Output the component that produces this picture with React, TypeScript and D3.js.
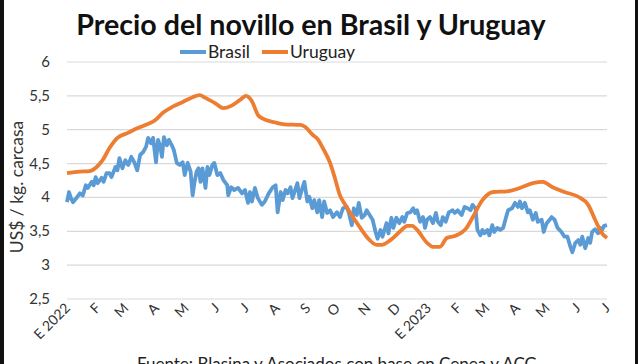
import React, { useEffect, useRef } from "react";
import * as d3 from "d3";

const title = "Precio del novillo en Brasil y Uruguay";
const yAxisTitle = "US$ / kg. carcasa";
const source = "Fuente: Blasina y Asociados con base en Cepea y ACG";

const seriesNames = ["Brasil", "Uruguay"];
const seriesColors = ["#5B9BD5", "#ED7D31"];

const yTicks = [2.5, 3, 3.5, 4, 4.5, 5, 5.5, 6];
const monthLabels = ["E 2022", "F", "M", "A", "M", "J", "J", "A", "S", "O", "N", "D", "E 2023", "F", "M", "A", "M", "J", "J"];

// days since 2022-01-01
const brasilDays = [
  0, 2, 4, 6, 10, 13, 16, 19, 21, 25, 27, 29, 31, 35, 37, 40, 43, 45, 49, 51, 53, 56, 59, 62, 65, 68, 71, 74, 77, 80,
  82, 85, 87, 90, 92, 94, 96, 98, 101, 103, 106, 108, 111, 114, 117, 119, 122, 125, 127, 129, 131, 133, 135, 137, 140,
  142, 144, 147, 149, 152, 155, 158, 162, 163, 166, 169, 173, 177, 180, 183, 185, 187, 190, 193, 197, 200, 204, 208,
  211, 213, 216, 218, 221, 223, 226, 228, 233, 235, 238, 240, 243, 245, 248, 250, 253, 255, 258, 260, 263, 266, 269,
  273, 276, 279, 283, 285, 288, 290, 293, 295, 298, 301, 303, 306, 309, 312, 314, 317, 319, 323, 325, 328, 330, 333,
  336, 339, 341, 344, 347, 350, 352, 354, 357, 360, 362, 364, 367, 370, 373, 375, 378, 380, 383, 386, 390, 392, 395,
  399, 402, 405, 408, 410, 413, 415, 418, 420, 422, 425, 427, 430, 432, 435, 438, 441, 444, 446, 450, 453, 456, 458,
  460, 463, 466, 468, 471, 474, 476, 480, 482, 485, 488, 490, 493, 496, 498, 500, 503, 506, 509, 511, 514, 517, 519,
  521, 524, 527, 529, 531, 534, 537, 539, 541, 543, 546,
];
const brasilValues = [
  3.93, 4.08, 3.99, 3.93, 4.0, 4.06, 4.03, 4.18, 4.14, 4.23, 4.18, 4.3, 4.21, 4.29, 4.23, 4.36, 4.36, 4.3, 4.45, 4.4,
  4.58, 4.43, 4.55, 4.48, 4.6, 4.52, 4.4, 4.63, 4.67, 4.75, 4.88, 4.8, 4.88, 4.52, 4.85, 4.77, 4.6, 4.89, 4.77, 4.85,
  4.77, 4.7, 4.51, 4.48, 4.52, 4.33, 4.51, 4.38, 4.03, 4.23, 4.38, 4.43, 4.23, 4.43, 4.14, 4.45, 4.33, 4.48, 4.51, 4.33,
  4.36, 4.26, 4.18, 4.03, 4.15, 4.11, 4.14, 4.06, 4.11, 3.92, 4.08, 3.94, 4.14, 3.99, 3.89, 3.94, 4.06, 4.15, 4.18,
  3.78, 4.08, 3.96, 4.11, 4.06, 4.15, 3.99, 4.21, 3.99, 4.14, 4.23, 3.94, 4.01, 3.84, 3.96, 3.78, 3.96, 3.71, 3.94,
  3.77, 3.81, 3.71, 3.78, 3.71, 3.84, 3.86, 3.77, 3.59, 3.84, 3.74, 3.92, 3.7, 3.74, 3.81, 3.74, 3.67, 3.49, 3.39, 3.52,
  3.42, 3.62, 3.47, 3.7, 3.55, 3.7, 3.62, 3.71, 3.64, 3.77, 3.78, 3.84, 3.77, 3.81, 3.64, 3.71, 3.55, 3.67, 3.71, 3.62,
  3.77, 3.64, 3.59, 3.71, 3.64, 3.78, 3.81, 3.77, 3.81, 3.74, 3.86, 3.84, 3.81, 3.89, 3.84, 3.52, 3.44, 3.52, 3.47,
  3.52, 3.44, 3.59, 3.49, 3.55, 3.52, 3.55, 3.71, 3.81, 3.84, 3.92, 3.86, 3.94, 3.84, 3.92, 3.78, 3.81, 3.67, 3.77,
  3.64, 3.67, 3.49, 3.62, 3.67, 3.71, 3.67, 3.55, 3.52, 3.49, 3.42, 3.42, 3.27, 3.19, 3.33, 3.37, 3.3, 3.42, 3.25, 3.4,
  3.33, 3.49, 3.53, 3.47, 3.55, 3.52, 3.58, 3.59,
];

const uruguayDays = [
  0, 13, 23, 30, 36, 43, 51, 61, 71, 81, 89, 97, 107, 117, 127, 134, 140, 150, 158, 167, 175, 181, 187, 193, 197, 210,
  220, 236, 241, 248, 254, 259, 266, 271, 276, 281, 286, 296, 306, 313, 318, 327, 337, 344, 349, 354, 364, 370, 377,
  384, 392, 404, 410, 420, 431, 445, 458, 471, 481, 491, 503, 517, 527, 534, 541, 546,
];
const uruguayValues = [
  4.36, 4.38, 4.39, 4.45, 4.55, 4.73, 4.88, 4.95, 5.02, 5.08, 5.14, 5.25, 5.34, 5.41, 5.48, 5.51, 5.47, 5.39, 5.32,
  5.36, 5.44, 5.5, 5.42, 5.22, 5.17, 5.11, 5.08, 5.07, 5.04, 4.93, 4.85, 4.72, 4.51, 4.28, 4.03, 3.9, 3.78, 3.56, 3.37,
  3.3, 3.3, 3.37, 3.5, 3.58, 3.58, 3.52, 3.33, 3.27, 3.27, 3.4, 3.43, 3.55, 3.7, 3.96, 4.08, 4.09, 4.14, 4.21, 4.23,
  4.15, 4.08, 4.01, 3.89, 3.67, 3.47, 3.4,
];

const font = "Lato, 'Noto Sans', sans-serif";

const Chart: React.FC = () => {
  const svgRef: any = useRef();

  useEffect(() => {
    const svg = d3.select(svgRef.current);
    svg.selectAll("*").remove();

    const width = 640;
    const height = 364;

    const marginLeft = 67;
    const marginRight = 33;
    const marginTop = 62;
    const plotBottom = 299;

    const start = new Date(2022, 0, 1);
    const end = new Date(2023, 6, 1);

    const xScale = d3.scaleTime().domain([start, end]).range([marginLeft, width - marginRight]);
    const yScale = d3.scaleLinear().domain([2.5, 6]).range([plotBottom, marginTop]);

    svg.append("rect").attr("width", width).attr("height", height).attr("fill", "#fff");

    // borders of the screenshot
    svg.append("rect").attr("x", 0).attr("y", 0).attr("width", 4).attr("height", height).attr("fill", "#111");
    svg.append("rect").attr("x", 635).attr("y", 0).attr("width", 3).attr("height", height).attr("fill", "#111");

    svg
      .append("text")
      .attr("x", 311)
      .attr("y", 35)
      .attr("text-anchor", "middle")
      .attr("font-family", font)
      .attr("font-weight", "bold")
      .attr("font-size", "28.6px")
      .attr("fill", "#111")
      .text(title);

    // legend
    const legendItems = [
      { x: 180, name: seriesNames[0], color: seriesColors[0] },
      { x: 262, name: seriesNames[1], color: seriesColors[1] },
    ];
    legendItems.forEach((item) => {
      svg
        .append("line")
        .attr("x1", item.x)
        .attr("x2", item.x + 26)
        .attr("y1", 52)
        .attr("y2", 52)
        .attr("stroke", item.color)
        .attr("stroke-width", 4);
      svg
        .append("text")
        .attr("x", item.x + 28)
        .attr("y", 58)
        .attr("font-family", font)
        .attr("font-size", "17.5px")
        .attr("fill", "#222")
        .text(item.name);
    });

    yTicks.forEach((t) => {
      svg
        .append("line")
        .attr("x1", marginLeft)
        .attr("x2", width - marginRight)
        .attr("y1", yScale(t))
        .attr("y2", yScale(t))
        .attr("stroke", "#D9D9D9")
        .attr("stroke-width", 1.2);

      svg
        .append("text")
        .attr("x", 50)
        .attr("y", yScale(t))
        .attr("dy", 5)
        .attr("text-anchor", "end")
        .attr("font-family", font)
        .attr("font-size", "15px")
        .attr("fill", "#333")
        .text(String(t).replace(".", ","));
    });

    const months = d3.timeMonth.range(start, d3.timeDay.offset(end, 1));
    months.forEach((m, i) => {
      const x = xScale(m) + 4;
      svg
        .append("text")
        .attr("transform", `translate(${x},${309}) rotate(-45)`)
        .attr("text-anchor", "end")
        .attr("font-family", font)
        .attr("font-size", "14px")
        .attr("fill", "#333")
        .text(monthLabels[i]);
    });

    svg
      .append("text")
      .attr("transform", `translate(23,187) rotate(-90)`)
      .attr("text-anchor", "middle")
      .attr("font-family", font)
      .attr("font-size", "17.5px")
      .attr("fill", "#333")
      .text(yAxisTitle);

    const line: any = d3
      .line()
      .x((d: any) => xScale(d3.timeDay.offset(start, d[0])))
      .y((d: any) => yScale(d[1]))
      .curve(d3.curveLinear);

    const series = [
      { days: brasilDays, values: brasilValues, color: seriesColors[0], curve: d3.curveLinear },
      { days: uruguayDays, values: uruguayValues, color: seriesColors[1], curve: d3.curveMonotoneX },
    ];

    series.forEach((s) => {
      svg
        .append("path")
        .datum(s.days.map((d, i) => [d, s.values[i]]))
        .attr("fill", "none")
        .attr("stroke", s.color)
        .attr("stroke-width", 3.8)
        .attr("stroke-linejoin", "round")
        .attr("d", line.curve(s.curve));
    });

    // the source line is cut by the bottom edge in the original screenshot
    svg
      .append("text")
      .attr("x", 337)
      .attr("y", 370)
      .attr("text-anchor", "middle")
      .attr("font-family", font)
      .attr("font-size", "17px")
      .attr("fill", "#222")
      .text(source);
  }, []);

  return (
    <svg
      ref={svgRef}
      width={640}
      height={364}
      style={{ position: "absolute", left: 0, top: 0, display: "block" }}
    />
  );
};

export default function App() {
  return <Chart />;
}
